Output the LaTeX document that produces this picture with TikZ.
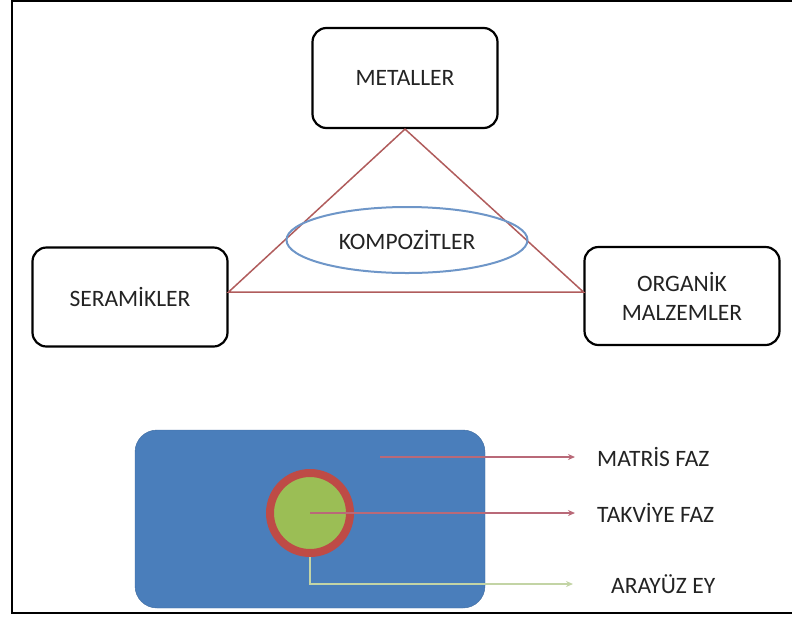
\documentclass[tikz,border=0pt]{standalone}
\usepackage{fontspec}
\setmainfont{Carlito}
\usepackage{xcolor}
\usepackage{tikz}
\usetikzlibrary{shapes,arrows,positioning,calc,arrows.meta}
\definecolor{triline}{RGB}{176,92,92}
\definecolor{ellline}{RGB}{110,150,200}
\definecolor{matblue}{RGB}{74,126,187}
\definecolor{fibgreen}{RGB}{155,190,85}
\definecolor{fibred}{RGB}{190,75,70}
\definecolor{arrmauve}{RGB}{185,105,120}
\definecolor{arrgreen}{RGB}{195,212,165}
\definecolor{txtgray}{RGB}{35,35,35}
\tikzstyle{matbox} = [draw, rounded corners=14pt, line width=2.2pt, text=txtgray, align=center, font=\fontsize{23.5}{29}\selectfont]
\tikzstyle{lbl} = [anchor=west, inner sep=0pt, text=txtgray, font=\fontsize{23.5}{28}\selectfont]
\tikzstyle{arrow} = [-{Stealth[length=7pt,width=6pt]}, line width=1.5pt]

\begin{document}
\begin{tikzpicture}[x=1pt, y=-1pt]
    \useasboundingbox (0,0) rectangle (792,619);
    % Page frame
    \draw[line width=2.2pt] (792,1) -- (12,1) -- (12,613) -- (792,613);

    % Material classes
    \node[matbox, minimum width=185, minimum height=100] (metal) at (405,78) {METALLER};
    \node[matbox, minimum width=195, minimum height=99] (ser) at (130,297) {SERAMİKLER};
    \node[matbox, minimum width=195, minimum height=98] (org) at (682,296) {ORGANİK\\MALZEMLER};

    % Triangle and composite
    \draw[triline, line width=1.5pt] (metal.south) -- ([yshift=5pt]ser.east) -- ([yshift=4pt]org.west) -- cycle;
    \node[ellipse, draw=ellline, line width=2pt, minimum width=241, minimum height=66, inner sep=0pt, text=txtgray, font=\fontsize{23.5}{28}\selectfont] (komp) at (407,240) {KOMPOZİTLER};

    % Matrix with reinforcement
    \node[fill=matblue, draw=matblue!85!black, rounded corners=22pt, minimum width=350, minimum height=178, inner sep=0pt] (matris) at (310,519) {};
    \node[circle, fill=fibgreen, draw=fibred, line width=8pt, minimum size=80, inner sep=0pt] (fib) at (310,513) {};

    % Phase labels
    \node[lbl] (lmat) at (597,457) {MATRİS FAZ};
    \node[lbl] (ltak) at (597,513) {TAKVİYE FAZ};
    \node[lbl] (lara) at (611,584) {ARAYÜZ EY};

    \coordinate (mstart) at (380,457);
    \draw[arrow, arrmauve, shorten >=22pt] (mstart) -- (lmat.west);
    \draw[arrow, arrmauve, shorten >=22pt] (fib.center) -- (ltak.west);
    \draw[arrow, arrgreen, line width=1.2pt, shorten >=38pt] (fib.south) |- (lara.west);
\end{tikzpicture}
\end{document}
